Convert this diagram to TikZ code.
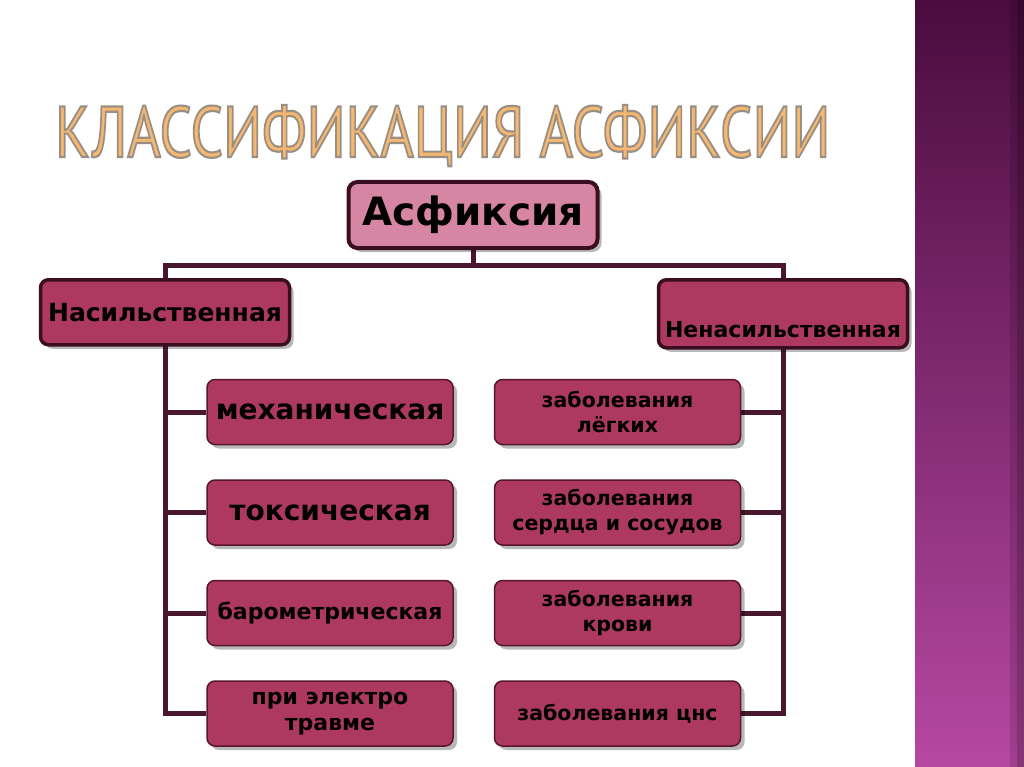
\documentclass[tikz,border=0pt]{standalone}
\usepackage{fontspec}
\setmainfont{DejaVu Sans}
\newfontface\titlefont[FakeBold=3]{PT Sans}
\usetikzlibrary{positioning, backgrounds, shadows}

\definecolor{linkLine}{RGB}{74,24,46}
\definecolor{topFill}{RGB}{214,134,162}
\definecolor{boxFill}{RGB}{174,57,96}
\definecolor{boxDraw}{RGB}{88,22,46}
\definecolor{darkDraw}{RGB}{58,14,32}
\definecolor{titleFill}{RGB}{246,184,112}
\definecolor{stripTop}{RGB}{74,12,62}
\definecolor{stripBot}{RGB}{182,72,162}

% контур заголовка: серый штрих поверх заливки
\newcommand{\titlebox}{\resizebox{775pt}{52pt}{\color{titleFill}\special{pdf:literal direct 0.60 0.56 0.52 RG}\titlefont КЛАССИФИКАЦИЯ АСФИКСИИ}}

\begin{document}
\begin{tikzpicture}[
      x=1pt, y=-1pt,
      node distance=34pt and 40pt,
      shade box/.style={drop shadow={shadow xshift=4pt, shadow yshift=-4pt, fill=black, opacity=0.28}},
      topbox/.style={rectangle, draw=darkDraw, line width=4pt, rounded corners=9pt, fill=topFill, minimum width=249pt, minimum height=66pt, font=\fontsize{39}{42}\selectfont\bfseries, shade box},
      catbox/.style={rectangle, draw=darkDraw, line width=3.5pt, rounded corners=8pt, fill=boxFill, minimum width=249pt, minimum height=65pt, inner xsep=2pt, shade box},
      itembox/.style={rectangle, draw=boxDraw, line width=1.5pt, rounded corners=8pt, fill=boxFill, minimum width=246pt, minimum height=65pt, inner xsep=2pt, align=center, font=\fontsize{20.5}{25}\selectfont\bfseries, shade box},
      bigtext/.style={font=\fontsize{28}{32}\selectfont\bfseries},
      link/.style={draw=linkLine, line width=5pt}
    ]
      \useasboundingbox (0,0) rectangle (1024,767);

      % заголовок
      \node[inner sep=0, anchor=base west] (title) at (55,157) {\titlebox};

      % верхний блок и шины
      \node[topbox] (asf) at (473,215) {Асфиксия};
      \coordinate (busL) at (165,265);
      \coordinate (busR) at (783,265);

      \node[catbox, font=\fontsize{25}{28}\selectfont\bfseries, below=13pt of busL] (viol) {Насильственная};
      \node[catbox, font=\fontsize{22}{26}\selectfont\bfseries, text height=51pt, text depth=4pt, inner ysep=6.5pt, below=13pt of busR] (nonviol) {Ненасильственная};

      % левая колонка
      \node[itembox, bigtext] (mech) at (330,412) {механическая};
      \node[itembox, bigtext, below=of mech] (tox) {токсическая};
      \node[itembox, font=\fontsize{22}{26}\selectfont\bfseries, below=of tox] (baro) {барометрическая};
      \node[itembox, font=\fontsize{22}{26}\selectfont\bfseries, below=of baro] (elec) {при электро\\травме};

      % правая колонка
      \node[itembox, right=of mech] (lung) {заболевания\\лёгких};
      \node[itembox, right=of tox] (heart) {заболевания\\сердца и сосудов};
      \node[itembox, right=of baro] (blood) {заболевания\\крови};
      \node[itembox, right=of elec] (cns) {заболевания цнс};

      \begin{scope}[on background layer]
        \fill[white] (0,0) rectangle (1024,767);
        \shade[top color=stripTop, bottom color=stripBot] (915,0) rectangle (1024,767);
        \fill[black, opacity=0.12] (1010,0) rectangle (1024,767);
        \fill[black, opacity=0.15] (1017,0) rectangle (1024,767);

        \draw[link] (asf.south) -- (asf.south |- busL);
        \draw[link] (elec.west) -| (busL) -- (busR) |- (cns.east);
        \foreach \n in {mech, tox, baro}
          \draw[link] (\n.west) -- (\n.west -| busL);
        \foreach \n in {lung, heart, blood}
          \draw[link] (\n.east) -- (\n.east -| busR);
      \end{scope}
    \end{tikzpicture}
\end{document}
